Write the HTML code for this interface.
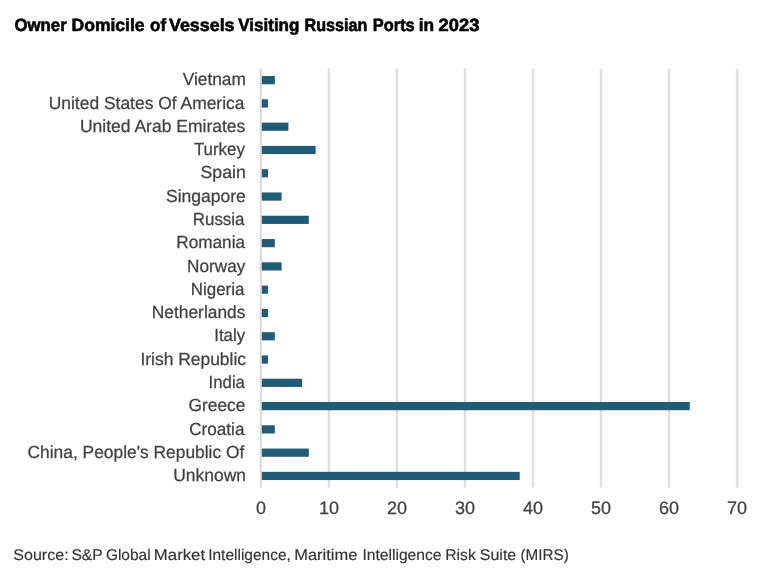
<!DOCTYPE html>
<html><head><meta charset="utf-8"><style>
html,body{margin:0;padding:0;background:#fff;width:768px;height:578px;overflow:hidden}
svg{position:absolute;left:0;top:0;will-change:transform}
</style></head><body>
<svg width="768" height="578" viewBox="0 0 768 578">
<text transform="translate(14.60,30.60) scale(0.9455,1)" style='font-family:"Liberation Sans", sans-serif;font-size:17.7px;font-weight:bold;fill:#000;stroke:#000;stroke-width:0.6px;text-rendering:geometricPrecision'>Owner</text>
<text transform="translate(71.51,30.60) scale(0.9918,1)" style='font-family:"Liberation Sans", sans-serif;font-size:17.7px;font-weight:bold;fill:#000;stroke:#000;stroke-width:0.6px;text-rendering:geometricPrecision'>Domicile</text>
<text transform="translate(150.10,30.60) scale(0.9588,1)" style='font-family:"Liberation Sans", sans-serif;font-size:17.7px;font-weight:bold;fill:#000;stroke:#000;stroke-width:0.6px;text-rendering:geometricPrecision'>of</text>
<text transform="translate(169.00,30.60) scale(1.0094,1)" style='font-family:"Liberation Sans", sans-serif;font-size:17.7px;font-weight:bold;fill:#000;stroke:#000;stroke-width:0.6px;text-rendering:geometricPrecision'>Vessels</text>
<text transform="translate(238.20,30.60) scale(0.9635,1)" style='font-family:"Liberation Sans", sans-serif;font-size:17.7px;font-weight:bold;fill:#000;stroke:#000;stroke-width:0.6px;text-rendering:geometricPrecision'>Visiting</text>
<text transform="translate(304.49,30.60) scale(0.9134,1)" style='font-family:"Liberation Sans", sans-serif;font-size:17.7px;font-weight:bold;fill:#000;stroke:#000;stroke-width:0.6px;text-rendering:geometricPrecision'>Russian</text>
<text transform="translate(372.82,30.60) scale(0.9261,1)" style='font-family:"Liberation Sans", sans-serif;font-size:17.7px;font-weight:bold;fill:#000;stroke:#000;stroke-width:0.6px;text-rendering:geometricPrecision'>Ports</text>
<text transform="translate(418.72,30.60) scale(0.9786,1)" style='font-family:"Liberation Sans", sans-serif;font-size:17.7px;font-weight:bold;fill:#000;stroke:#000;stroke-width:0.6px;text-rendering:geometricPrecision'>in</text>
<text transform="translate(438.60,30.60) scale(1.0359,1)" style='font-family:"Liberation Sans", sans-serif;font-size:17.7px;font-weight:bold;fill:#000;stroke:#000;stroke-width:0.6px;text-rendering:geometricPrecision'>2023</text>
<text transform="translate(13.26,559.80) scale(1.0373,1)" style='font-family:"Liberation Sans", sans-serif;font-size:15.5px;fill:#333;stroke:#333;stroke-width:0.15px;text-rendering:geometricPrecision'>Source:</text>
<text transform="translate(71.39,559.80) scale(1.0103,1)" style='font-family:"Liberation Sans", sans-serif;font-size:15.5px;fill:#333;stroke:#333;stroke-width:0.15px;text-rendering:geometricPrecision'>S&amp;P</text>
<text transform="translate(105.90,559.80) scale(0.9977,1)" style='font-family:"Liberation Sans", sans-serif;font-size:15.5px;fill:#333;stroke:#333;stroke-width:0.15px;text-rendering:geometricPrecision'>Global</text>
<text transform="translate(153.82,559.80) scale(1.0826,1)" style='font-family:"Liberation Sans", sans-serif;font-size:15.5px;fill:#333;stroke:#333;stroke-width:0.15px;text-rendering:geometricPrecision'>Market</text>
<text transform="translate(208.20,559.80) scale(0.9988,1)" style='font-family:"Liberation Sans", sans-serif;font-size:15.5px;fill:#333;stroke:#333;stroke-width:0.15px;text-rendering:geometricPrecision'>Intelligence,</text>
<text transform="translate(294.24,559.80) scale(1.0621,1)" style='font-family:"Liberation Sans", sans-serif;font-size:15.5px;fill:#333;stroke:#333;stroke-width:0.15px;text-rendering:geometricPrecision'>Maritime</text>
<text transform="translate(362.39,559.80) scale(1.0091,1)" style='font-family:"Liberation Sans", sans-serif;font-size:15.5px;fill:#333;stroke:#333;stroke-width:0.15px;text-rendering:geometricPrecision'>Intelligence</text>
<text transform="translate(445.29,559.80) scale(1.0103,1)" style='font-family:"Liberation Sans", sans-serif;font-size:15.5px;fill:#333;stroke:#333;stroke-width:0.15px;text-rendering:geometricPrecision'>Risk</text>
<text transform="translate(479.77,559.80) scale(1.0324,1)" style='font-family:"Liberation Sans", sans-serif;font-size:15.5px;fill:#333;stroke:#333;stroke-width:0.15px;text-rendering:geometricPrecision'>Suite</text>
<text transform="translate(520.52,559.80) scale(0.9830,1)" style='font-family:"Liberation Sans", sans-serif;font-size:15.5px;fill:#333;stroke:#333;stroke-width:0.15px;text-rendering:geometricPrecision'>(MIRS)</text>
<rect x="259.30" y="68.50" width="3.2" height="419.10" fill="#f3f3f3"/>
<rect x="260.30" y="68.50" width="1.2" height="419.10" fill="#d0d0d0"/>
<text x="260.90" y="513.9" text-anchor="middle" style='font-family:"Liberation Sans", sans-serif;font-size:18px;fill:#404040;stroke:#404040;stroke-width:0.25px;text-rendering:geometricPrecision'>0</text>
<rect x="327.33" y="68.50" width="3.2" height="419.10" fill="#f3f3f3"/>
<rect x="328.33" y="68.50" width="1.2" height="419.10" fill="#d0d0d0"/>
<text x="328.93" y="513.9" text-anchor="middle" style='font-family:"Liberation Sans", sans-serif;font-size:18px;fill:#404040;stroke:#404040;stroke-width:0.25px;text-rendering:geometricPrecision'>10</text>
<rect x="395.36" y="68.50" width="3.2" height="419.10" fill="#f3f3f3"/>
<rect x="396.36" y="68.50" width="1.2" height="419.10" fill="#d0d0d0"/>
<text x="396.96" y="513.9" text-anchor="middle" style='font-family:"Liberation Sans", sans-serif;font-size:18px;fill:#404040;stroke:#404040;stroke-width:0.25px;text-rendering:geometricPrecision'>20</text>
<rect x="463.39" y="68.50" width="3.2" height="419.10" fill="#f3f3f3"/>
<rect x="464.39" y="68.50" width="1.2" height="419.10" fill="#d0d0d0"/>
<text x="464.99" y="513.9" text-anchor="middle" style='font-family:"Liberation Sans", sans-serif;font-size:18px;fill:#404040;stroke:#404040;stroke-width:0.25px;text-rendering:geometricPrecision'>30</text>
<rect x="531.42" y="68.50" width="3.2" height="419.10" fill="#f3f3f3"/>
<rect x="532.42" y="68.50" width="1.2" height="419.10" fill="#d0d0d0"/>
<text x="533.02" y="513.9" text-anchor="middle" style='font-family:"Liberation Sans", sans-serif;font-size:18px;fill:#404040;stroke:#404040;stroke-width:0.25px;text-rendering:geometricPrecision'>40</text>
<rect x="599.45" y="68.50" width="3.2" height="419.10" fill="#f3f3f3"/>
<rect x="600.45" y="68.50" width="1.2" height="419.10" fill="#d0d0d0"/>
<text x="601.05" y="513.9" text-anchor="middle" style='font-family:"Liberation Sans", sans-serif;font-size:18px;fill:#404040;stroke:#404040;stroke-width:0.25px;text-rendering:geometricPrecision'>50</text>
<rect x="667.48" y="68.50" width="3.2" height="419.10" fill="#f3f3f3"/>
<rect x="668.48" y="68.50" width="1.2" height="419.10" fill="#d0d0d0"/>
<text x="669.08" y="513.9" text-anchor="middle" style='font-family:"Liberation Sans", sans-serif;font-size:18px;fill:#404040;stroke:#404040;stroke-width:0.25px;text-rendering:geometricPrecision'>60</text>
<rect x="735.51" y="68.50" width="3.2" height="419.10" fill="#f3f3f3"/>
<rect x="736.51" y="68.50" width="1.2" height="419.10" fill="#d0d0d0"/>
<text x="737.11" y="513.9" text-anchor="middle" style='font-family:"Liberation Sans", sans-serif;font-size:18px;fill:#404040;stroke:#404040;stroke-width:0.25px;text-rendering:geometricPrecision'>70</text>
<rect x="261.80" y="76.04" width="13.01" height="8.2" fill="#215b75"/>
<text transform="translate(182.70,85.29) scale(0.9889,1)" style='font-family:"Liberation Sans", sans-serif;font-size:17.5px;fill:#404040;stroke:#404040;stroke-width:0.25px;text-rendering:geometricPrecision'>Vietnam</text>
<rect x="261.80" y="99.33" width="6.20" height="8.2" fill="#215b75"/>
<text transform="translate(48.70,108.58) scale(0.9964,1)" style='font-family:"Liberation Sans", sans-serif;font-size:17.5px;fill:#404040;stroke:#404040;stroke-width:0.25px;text-rendering:geometricPrecision'>United States Of America</text>
<rect x="261.80" y="122.61" width="26.61" height="8.2" fill="#215b75"/>
<text transform="translate(79.90,131.86) scale(1.0006,1)" style='font-family:"Liberation Sans", sans-serif;font-size:17.5px;fill:#404040;stroke:#404040;stroke-width:0.25px;text-rendering:geometricPrecision'>United Arab Emirates</text>
<rect x="261.80" y="145.89" width="53.82" height="8.2" fill="#215b75"/>
<text transform="translate(193.90,155.14) scale(0.9642,1)" style='font-family:"Liberation Sans", sans-serif;font-size:17.5px;fill:#404040;stroke:#404040;stroke-width:0.25px;text-rendering:geometricPrecision'>Turkey</text>
<rect x="261.80" y="169.18" width="6.20" height="8.2" fill="#215b75"/>
<text transform="translate(200.59,178.43) scale(1.0093,1)" style='font-family:"Liberation Sans", sans-serif;font-size:17.5px;fill:#404040;stroke:#404040;stroke-width:0.25px;text-rendering:geometricPrecision'>Spain</text>
<rect x="261.80" y="192.46" width="19.81" height="8.2" fill="#215b75"/>
<text transform="translate(166.00,201.71) scale(1.0000,1)" style='font-family:"Liberation Sans", sans-serif;font-size:17.5px;fill:#404040;stroke:#404040;stroke-width:0.25px;text-rendering:geometricPrecision'>Singapore</text>
<rect x="261.80" y="215.74" width="47.02" height="8.2" fill="#215b75"/>
<text transform="translate(192.73,224.99) scale(0.9679,1)" style='font-family:"Liberation Sans", sans-serif;font-size:17.5px;fill:#404040;stroke:#404040;stroke-width:0.25px;text-rendering:geometricPrecision'>Russia</text>
<rect x="261.80" y="239.03" width="13.01" height="8.2" fill="#215b75"/>
<text transform="translate(176.32,248.28) scale(0.9812,1)" style='font-family:"Liberation Sans", sans-serif;font-size:17.5px;fill:#404040;stroke:#404040;stroke-width:0.25px;text-rendering:geometricPrecision'>Romania</text>
<rect x="261.80" y="262.31" width="19.81" height="8.2" fill="#215b75"/>
<text transform="translate(187.12,271.56) scale(0.9810,1)" style='font-family:"Liberation Sans", sans-serif;font-size:17.5px;fill:#404040;stroke:#404040;stroke-width:0.25px;text-rendering:geometricPrecision'>Norway</text>
<rect x="261.80" y="285.59" width="6.20" height="8.2" fill="#215b75"/>
<text transform="translate(190.73,294.84) scale(0.9691,1)" style='font-family:"Liberation Sans", sans-serif;font-size:17.5px;fill:#404040;stroke:#404040;stroke-width:0.25px;text-rendering:geometricPrecision'>Nigeria</text>
<rect x="261.80" y="308.88" width="6.20" height="8.2" fill="#215b75"/>
<text transform="translate(151.81,318.12) scale(0.9914,1)" style='font-family:"Liberation Sans", sans-serif;font-size:17.5px;fill:#404040;stroke:#404040;stroke-width:0.25px;text-rendering:geometricPrecision'>Netherlands</text>
<rect x="261.80" y="332.16" width="13.01" height="8.2" fill="#215b75"/>
<text transform="translate(214.24,341.41) scale(0.9613,1)" style='font-family:"Liberation Sans", sans-serif;font-size:17.5px;fill:#404040;stroke:#404040;stroke-width:0.25px;text-rendering:geometricPrecision'>Italy</text>
<rect x="261.80" y="355.44" width="6.20" height="8.2" fill="#215b75"/>
<text transform="translate(140.40,364.69) scale(0.9962,1)" style='font-family:"Liberation Sans", sans-serif;font-size:17.5px;fill:#404040;stroke:#404040;stroke-width:0.25px;text-rendering:geometricPrecision'>Irish Republic</text>
<rect x="261.80" y="378.73" width="40.22" height="8.2" fill="#215b75"/>
<text transform="translate(208.54,387.98) scale(0.9595,1)" style='font-family:"Liberation Sans", sans-serif;font-size:17.5px;fill:#404040;stroke:#404040;stroke-width:0.25px;text-rendering:geometricPrecision'>India</text>
<rect x="261.80" y="402.01" width="427.99" height="8.2" fill="#215b75"/>
<text transform="translate(188.61,411.26) scale(0.9893,1)" style='font-family:"Liberation Sans", sans-serif;font-size:17.5px;fill:#404040;stroke:#404040;stroke-width:0.25px;text-rendering:geometricPrecision'>Greece</text>
<rect x="261.80" y="425.29" width="13.01" height="8.2" fill="#215b75"/>
<text transform="translate(189.22,434.54) scale(0.9786,1)" style='font-family:"Liberation Sans", sans-serif;font-size:17.5px;fill:#404040;stroke:#404040;stroke-width:0.25px;text-rendering:geometricPrecision'>Croatia</text>
<rect x="261.80" y="448.57" width="47.02" height="8.2" fill="#215b75"/>
<text transform="translate(27.51,457.82) scale(0.9931,1)" style='font-family:"Liberation Sans", sans-serif;font-size:17.5px;fill:#404040;stroke:#404040;stroke-width:0.25px;text-rendering:geometricPrecision'>China, People&#39;s Republic Of</text>
<rect x="261.80" y="471.86" width="257.91" height="8.2" fill="#215b75"/>
<text transform="translate(173.20,481.11) scale(0.9972,1)" style='font-family:"Liberation Sans", sans-serif;font-size:17.5px;fill:#404040;stroke:#404040;stroke-width:0.25px;text-rendering:geometricPrecision'>Unknown</text>
</svg>
</body></html>
